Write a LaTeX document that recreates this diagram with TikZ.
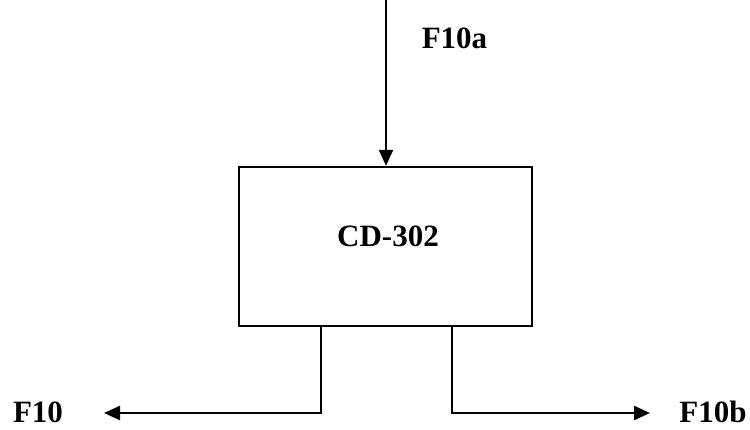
\documentclass[tikz,border=0pt]{standalone}
\usepackage{fontspec}
\setmainfont{Liberation Serif}
\usetikzlibrary{arrows.meta}
\begin{document}
\begin{tikzpicture}[x=1pt,y=-1pt,
  line/.style={line width=2.4pt},
  flow/.style={line, -{Triangle[length=16pt,width=14pt]}},
  lbl/.style={font=\fontsize{31}{36}\selectfont\bfseries, inner sep=0pt},
  unit/.style={draw, line width=2.4pt, minimum width=293pt, minimum height=159pt, inner sep=0pt}]
\useasboundingbox (0,0) rectangle (750,430);
\node[unit] (cd) at (385.5,246.5) {};
\node[lbl] (cdname) at (388,236) {CD-302};
\coordinate (in) at (386,0);
\coordinate (lb) at (321,413);
\coordinate (rb) at (452,413);
\coordinate (lout) at (104,413);
\coordinate (rout) at (650,413);
\node[lbl] (f10a) at (454.5,38) {F10a};
\node[lbl] (f10) at (38,412) {F10};
\node[lbl] (f10b) at (713,412) {F10b};
\draw[flow] (in) -- (in |- cd.north);
\draw[flow] (lb |- cd.south) -- (lb) -- (lout);
\draw[flow] (rb |- cd.south) -- (rb) -- (rout);
\end{tikzpicture}
\end{document}
